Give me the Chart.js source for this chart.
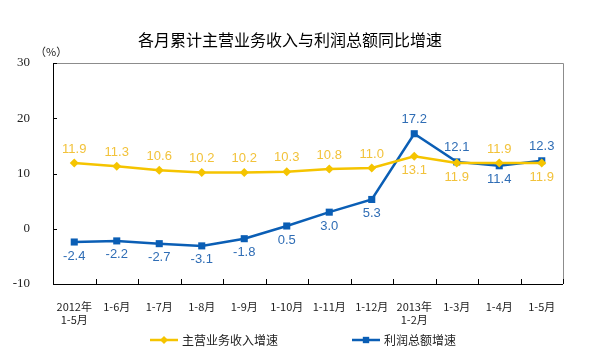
<!DOCTYPE html>
<html>
<head>
<meta charset="utf-8">
<script src="https://cdn.jsdelivr.net/npm/chart.js@4/dist/chart.umd.min.js"></script>
<style>
  html, body { margin: 0; padding: 0; background: #fff; }
  #wrap { width: 598px; height: 362px; position: relative; }
</style>
</head>
<body>
<div id="wrap"><canvas id="chart" width="598" height="362"></canvas></div>
<script>
// ============================================
// Data
// ============================================
const categories = [
  ['2012年', '1-5月'], '1-6月', '1-7月', '1-8月', '1-9月', '1-10月',
  '1-11月', '1-12月', ['2013年', '1-2月'], '1-3月', '1-4月', '1-5月'
];
const revenueGrowth = [11.9, 11.3, 10.6, 10.2, 10.2, 10.3, 10.8, 11.0, 13.1, 11.9, 11.9, 11.9];
const profitGrowth = [-2.4, -2.2, -2.7, -3.1, -1.8, 0.5, 3.0, 5.3, 17.2, 12.1, 11.4, 12.3];
// label placement: 1 = above the point, -1 = below
const revenueLabelSide = [1, 1, 1, 1, 1, 1, 1, 1, -1, -1, 1, -1];
const profitLabelSide = [-1, -1, -1, -1, -1, -1, -1, -1, 1, 1, -1, 1];

const seriesNames = ['主营业务收入增速', '利润总额增速'];
const titleText = '各月累计主营业务收入与利润总额同比增速';

const COLORS = {
  revenue: '#f5c400',
  revenueText: '#f2c23a',
  profit: '#0a5eb5',
  profitText: '#2f6db5',
  text: '#222',
  frame: '#8c8c8c'
};

const FONT = '"Liberation Sans", Arial, sans-serif';
const SERIF = '"Liberation Serif", "Times New Roman", serif';
const CJK = '"Noto Sans CJK SC", sans-serif';

// ============================================
// Plugins
// ============================================
const decorPlugin = {
  id: 'decor',
  afterDatasetsDraw(chart) {
    const ctx = chart.ctx;
    const area = chart.chartArea;
    const xs = chart.scales.x;
    const ys = chart.scales.y;

    ctx.save();
    // top / right frame
    ctx.strokeStyle = COLORS.frame;
    ctx.lineWidth = 1;
    ctx.beginPath();
    ctx.moveTo(area.left, area.top + 0.5);
    ctx.lineTo(area.right + 0.5, area.top + 0.5);
    ctx.lineTo(area.right + 0.5, area.bottom);
    ctx.stroke();

    // left / bottom axis
    ctx.strokeStyle = '#000';
    ctx.beginPath();
    ctx.moveTo(area.left + 0.5, area.top);
    ctx.lineTo(area.left + 0.5, area.bottom + 0.5);
    ctx.lineTo(area.right, area.bottom + 0.5);
    ctx.stroke();

    // inward tick marks between categories
    const step = xs.getPixelForValue(1) - xs.getPixelForValue(0);
    ctx.beginPath();
    for (let i = 1; i <= categories.length; i++) {
      const x = Math.round(xs.getPixelForValue(i - 1) + step / 2) + 0.5;
      ctx.moveTo(x, area.bottom);
      ctx.lineTo(x, area.bottom - 5);
    }
    // inward y ticks
    ys.ticks.forEach(t => {
      const y = Math.round(ys.getPixelForValue(t.value)) + 0.5;
      ctx.moveTo(area.left, y);
      ctx.lineTo(area.left + 4, y);
    });
    ctx.stroke();

    // data labels
    ctx.font = '13px ' + FONT;
    ctx.textAlign = 'center';
    ctx.textBaseline = 'middle';
    const sides = [revenueLabelSide, profitLabelSide];
    const textColors = [COLORS.revenueText, COLORS.profitText];
    chart.data.datasets.forEach((ds, di) => {
      const meta = chart.getDatasetMeta(di);
      ctx.fillStyle = textColors[di];
      meta.data.forEach((pt, i) => {
        const y = pt.y - sides[di][i] * 14;
        ctx.fillText(ds.data[i].toFixed(1), pt.x, y);
      });
    });

    // unit label
    ctx.fillStyle = COLORS.text;
    ctx.font = '11px ' + CJK;
    ctx.textAlign = 'left';
    ctx.fillText('（%）', 35, 52);

    // title
    ctx.fillStyle = '#000';
    ctx.font = '16px ' + CJK;
    ctx.textAlign = 'center';
    ctx.fillText(titleText, 290, 40);

    // legend
    const legendItems = [
      { x: 150, color: COLORS.revenue, style: 'rectRot', r: 4 },
      { x: 352, color: COLORS.profit, style: 'rect', r: 4.5 }
    ];
    legendItems.forEach((item, k) => {
      const y = 340;
      ctx.strokeStyle = item.color;
      ctx.lineWidth = 2.5;
      ctx.beginPath();
      ctx.moveTo(item.x, y);
      ctx.lineTo(item.x + 28, y);
      ctx.stroke();
      ctx.fillStyle = item.color;
      Chart.helpers.drawPoint(ctx, { pointStyle: item.style, radius: item.r, borderWidth: 0 }, item.x + 14, y);
      ctx.fillStyle = COLORS.text;
      ctx.font = '12px ' + CJK;
      ctx.textAlign = 'left';
      ctx.fillText(seriesNames[k], item.x + 32, y);
    });
    ctx.restore();
  }
};

// ============================================
// Chart
// ============================================
new Chart(document.getElementById('chart'), {
  type: 'line',
  data: {
    labels: categories,
    datasets: [
      {
        label: seriesNames[0],
        data: revenueGrowth,
        borderColor: COLORS.revenue,
        backgroundColor: COLORS.revenue,
        borderWidth: 2.5,
        pointStyle: 'rectRot',
        pointRadius: 4.5,
        pointBorderWidth: 0,
        tension: 0
      },
      {
        label: seriesNames[1],
        data: profitGrowth,
        borderColor: COLORS.profit,
        backgroundColor: COLORS.profit,
        borderWidth: 2.5,
        pointStyle: 'rect',
        pointRadius: 5,
        pointBorderWidth: 0,
        tension: 0
      }
    ]
  },
  options: {
    responsive: false,
    animation: false,
    layout: { padding: { left: 0, top: 63, right: 35, bottom: 0 } },
    plugins: {
      legend: { display: false },
      title: { display: false },
      tooltip: { enabled: false }
    },
    scales: {
      x: {
        offset: true,
        grid: { display: false },
        border: { display: false },
        ticks: {
          color: COLORS.text,
          font: { family: CJK, size: 11 },
          padding: 8,
          maxRotation: 0,
          autoSkip: false
        },
        afterFit(scale) { scale.height = 78; }
      },
      y: {
        min: -10,
        max: 30,
        grid: { display: false },
        border: { display: false },
        ticks: {
          stepSize: 10,
          color: COLORS.text,
          font: { family: SERIF, size: 13 },
          padding: 15
        },
        afterFit(scale) { scale.width = 53; }
      }
    }
  },
  plugins: [decorPlugin]
});
</script>
</body>
</html>
